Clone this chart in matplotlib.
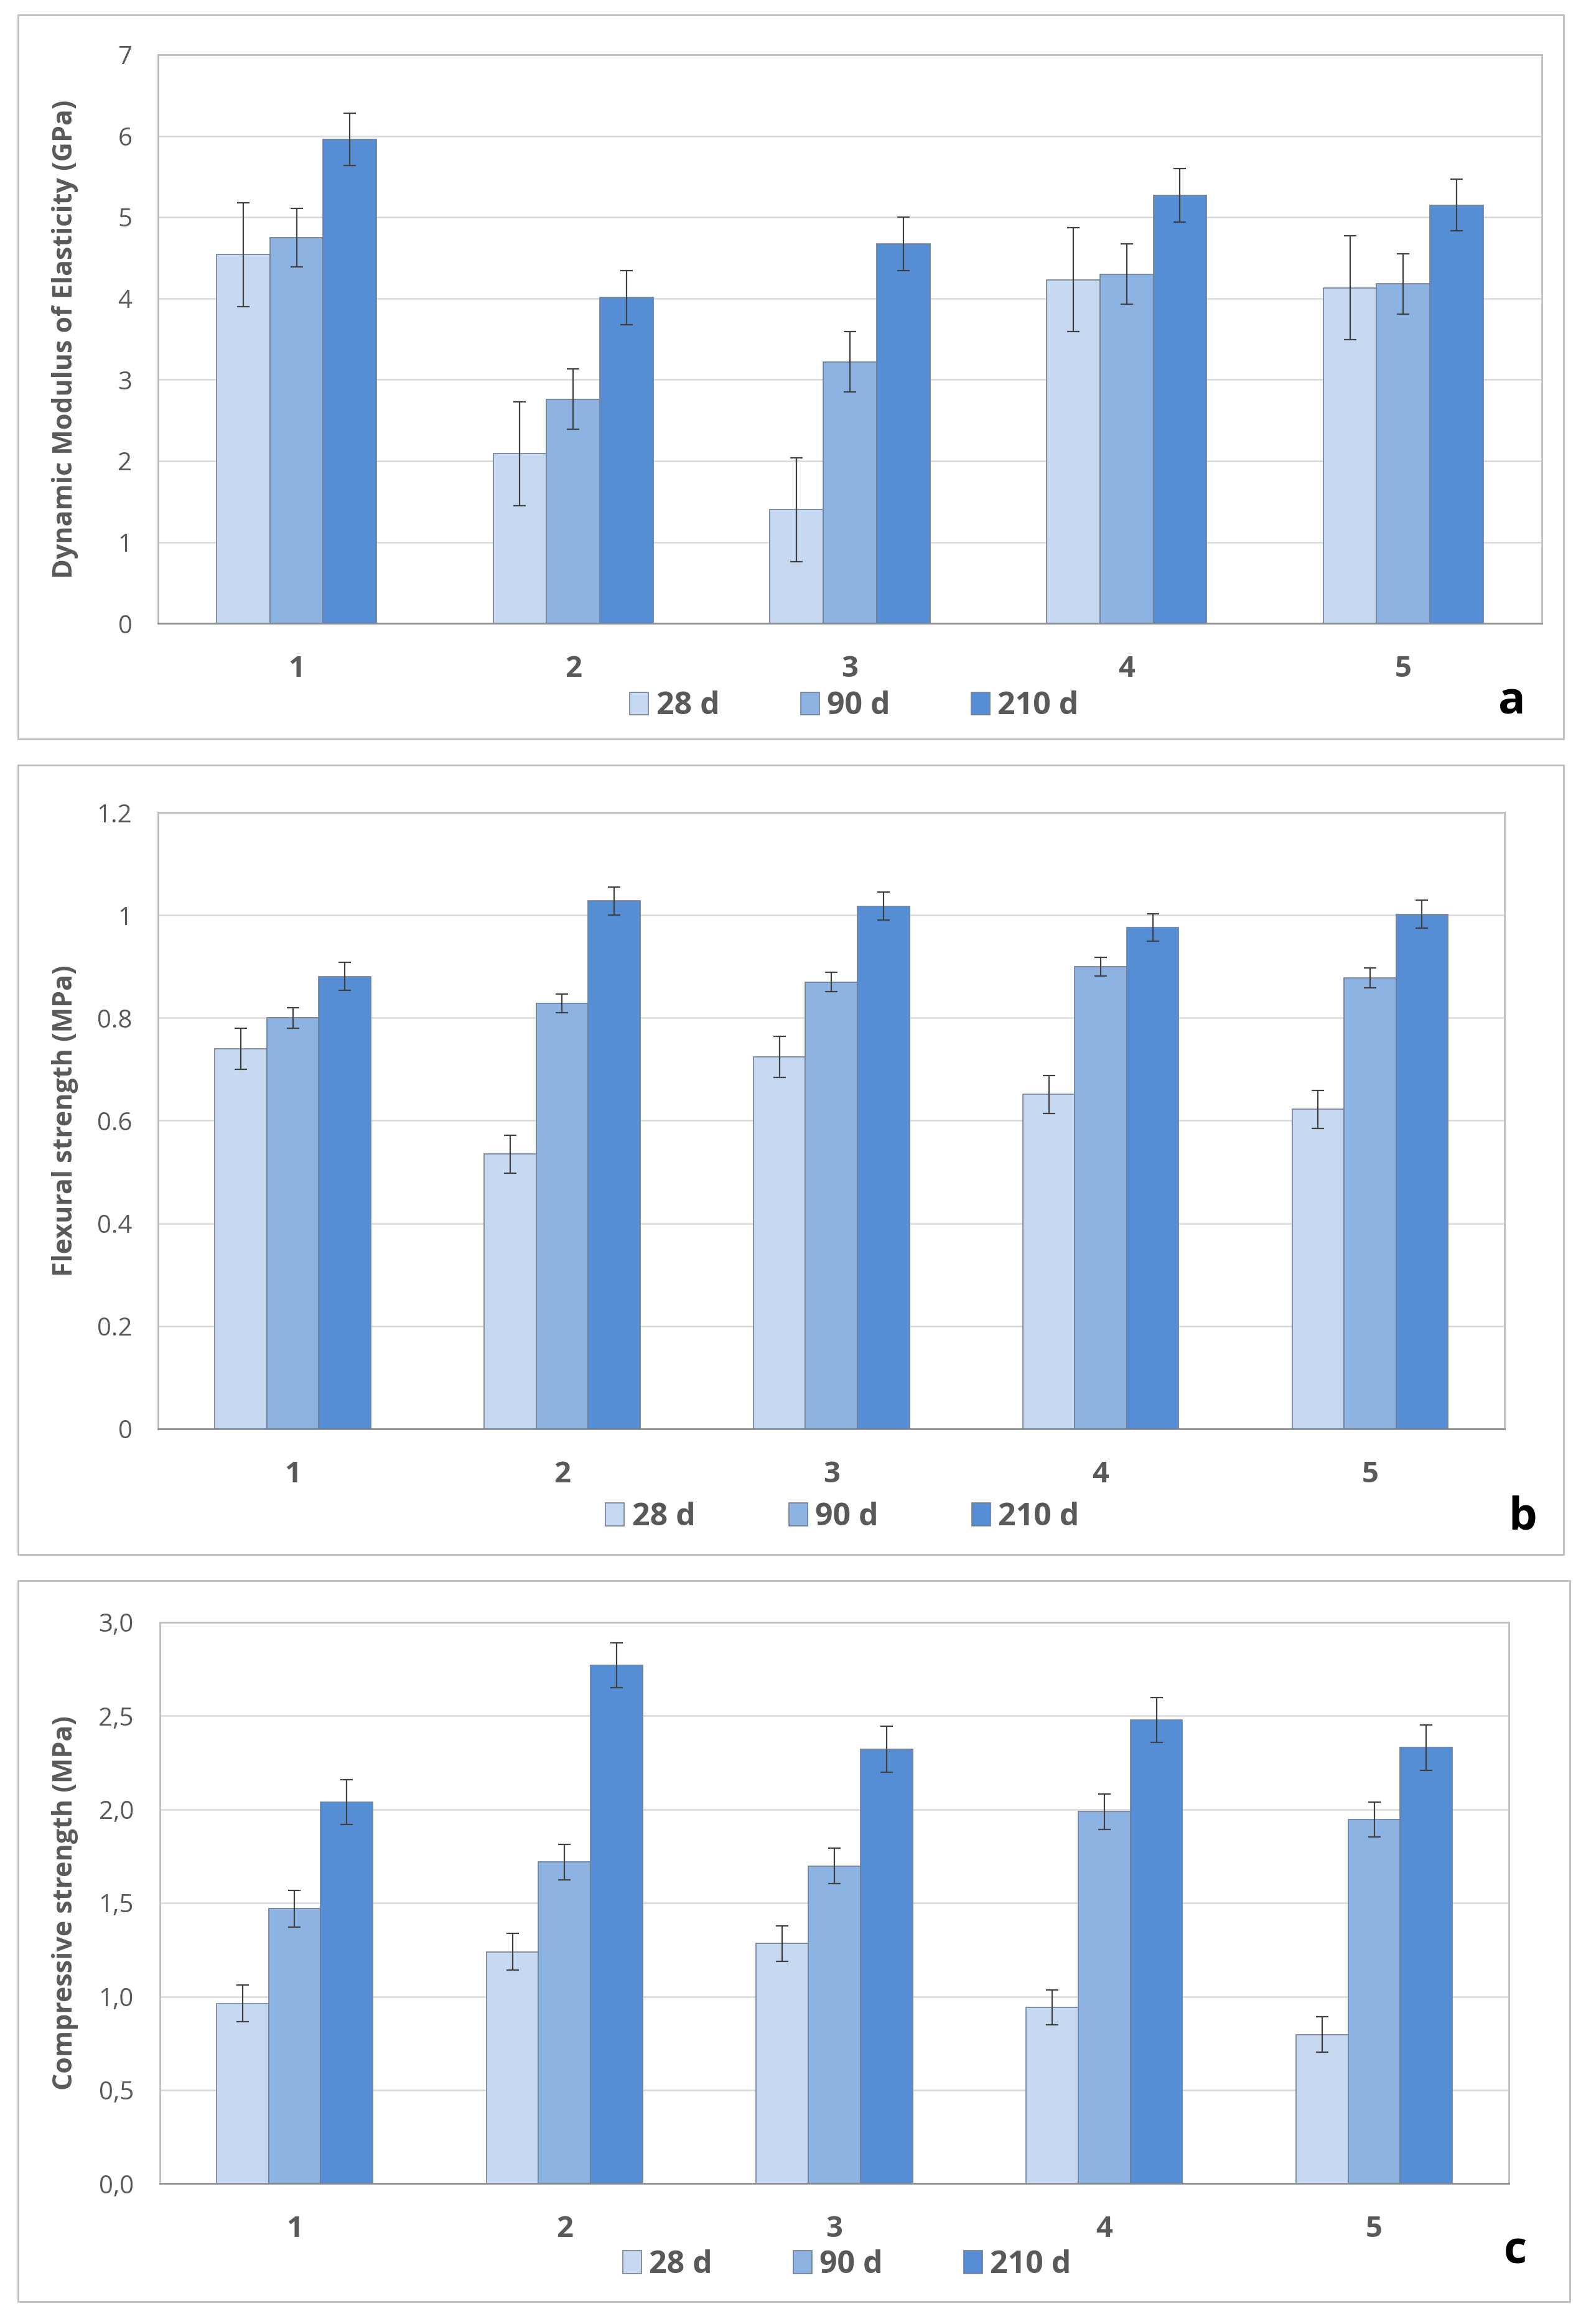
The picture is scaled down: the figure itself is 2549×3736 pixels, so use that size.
import numpy as np
import matplotlib
matplotlib.use('Agg')
import matplotlib.pyplot as plt
from matplotlib.patches import Rectangle
from matplotlib.transforms import blended_transform_factory

plt.rcParams['font.family'] = ['Open Sans', 'DejaVu Sans']

groups = ['1', '2', '3', '4', '5']
ages = ['28 d', '90 d', '210 d']
colors = ['#C6D9F0', '#8DB3E2', '#558ED5']

# panel a - dynamic modulus of elasticity (GPa)
dyn_28 = [4.54, 2.09, 1.40, 4.23, 4.13]
dyn_90 = [4.75, 2.76, 3.22, 4.30, 4.18]
dyn_210 = [5.96, 4.01, 4.67, 5.27, 5.15]
dyn_err_28 = [0.64, 0.64, 0.64, 0.64, 0.64]
dyn_err_90 = [0.36, 0.37, 0.37, 0.37, 0.37]
dyn_err_210 = [0.32, 0.33, 0.33, 0.33, 0.32]

# panel b - flexural strength (MPa)
flex_28 = [0.740, 0.535, 0.724, 0.651, 0.622]
flex_90 = [0.800, 0.828, 0.870, 0.900, 0.878]
flex_210 = [0.881, 1.028, 1.018, 0.976, 1.002]
flex_err_28 = [0.040, 0.037, 0.040, 0.037, 0.037]
flex_err_90 = [0.020, 0.018, 0.019, 0.018, 0.019]
flex_err_210 = [0.027, 0.027, 0.027, 0.027, 0.027]

# panel c - compressive strength (MPa)
comp_28 = [0.963, 1.239, 1.284, 0.942, 0.796]
comp_90 = [1.469, 1.719, 1.698, 1.988, 1.946]
comp_210 = [2.040, 2.771, 2.322, 2.478, 2.330]
comp_err_28 = [0.097, 0.097, 0.095, 0.092, 0.095]
comp_err_90 = [0.097, 0.095, 0.095, 0.094, 0.093]
comp_err_210 = [0.120, 0.120, 0.123, 0.120, 0.120]

W, H = 1073.0, 1573.0  # layout measured on a reduced copy

def fx(x):
    return x / W

def fy(y):
    return 1 - y / H

fig = plt.figure(figsize=(25.49, 37.36), dpi=100)

panels = [
    dict(vals=[dyn_28, dyn_90, dyn_210], errs=[dyn_err_28, dyn_err_90, dyn_err_210],
         ylim=(0, 7), ticks=np.arange(0, 8, 1), fmt='{:g}',
         ylabel='Dynamic Modulus of Elasticity (GPa)',
         box=(12, 10, 1058, 500), ax=(107, 37, 1043, 422),
         leg=(578, 478), colsp=2.6, letter='a', lpos=(1023, 475)),
    dict(vals=[flex_28, flex_90, flex_210], errs=[flex_err_28, flex_err_90, flex_err_210],
         ylim=(0, 1.2), ticks=np.arange(0, 1.21, 0.2), fmt='{:g}',
         ylabel='Flexural strength (MPa)',
         box=(12, 518, 1058, 1052), ax=(107, 550, 1018, 967),
         leg=(570, 1027), colsp=3.0, letter='b', lpos=(1030, 1027)),
    dict(vals=[comp_28, comp_90, comp_210], errs=[comp_err_28, comp_err_90, comp_err_210],
         ylim=(0, 3), ticks=np.arange(0, 3.01, 0.5), fmt='comma',
         ylabel='Compressive strength (MPa)',
         box=(12, 1070, 1062, 1558), ax=(108, 1098, 1021, 1478),
         leg=(573, 1533), colsp=2.6, letter='c', lpos=(1025, 1524)),
]

x = np.arange(len(groups))
bw = 0.193

for p in panels:
    bx0, by0, bx1, by1 = p['box']
    fig.patches.append(Rectangle((fx(bx0), fy(by1)), fx(bx1) - fx(bx0), fy(by0) - fy(by1),
                                 transform=fig.transFigure, fill=False,
                                 edgecolor='#BFBFBF', linewidth=2))
    l, t, r, b = p['ax']
    ax = fig.add_axes([fx(l), fy(b), fx(r) - fx(l), fy(t) - fy(b)])
    for i in range(3):
        ax.bar(x + (i - 1) * bw, p['vals'][i], bw, color=colors[i],
               edgecolor='#6F7F96', linewidth=1.2, label=ages[i], zorder=3,
               yerr=p['errs'][i], ecolor='#404040',
               error_kw=dict(elinewidth=1.6, capsize=7, capthick=1.6, zorder=4))
    ax.set_xlim(-0.5, 4.5)
    ax.set_ylim(*p['ylim'])
    ax.set_yticks(p['ticks'])
    if p['fmt'] == 'comma':
        ax.set_yticklabels(['{:.1f}'.format(v).replace('.', ',') for v in p['ticks']])
    else:
        ax.set_yticklabels(['{:g}'.format(round(v, 2)) for v in p['ticks']])
    ax.set_xticks(x)
    ax.set_xticklabels(groups, fontweight='bold')
    ax.tick_params(axis='both', length=0, colors='#595959')
    ax.tick_params(axis='y', pad=30, labelsize=29)
    ax.tick_params(axis='x', pad=36, labelsize=34)
    ax.grid(axis='y', color='#D9D9D9', linewidth=1.8, zorder=0)
    ax.set_axisbelow(True)
    for s in ax.spines.values():
        s.set_color('#BFBFBF')
        s.set_linewidth(2)
    ax.spines['bottom'].set_color('#909090')
    ax.set_ylabel(p['ylabel'], fontsize=31, fontweight='bold', color='#595959')
    ax.yaxis.label.set_va('center')
    ax.yaxis.set_label_coords(fx(44), 0.5,
                              transform=blended_transform_factory(fig.transFigure, ax.transAxes))
    lx, ly = p['leg']
    leg = ax.legend(loc='center', bbox_to_anchor=(fx(lx), fy(ly)), bbox_transform=fig.transFigure,
                    ncol=3, frameon=False, fontsize=36, handlelength=0.6, handleheight=0.75,
                    columnspacing=p['colsp'], handletextpad=0.25)
    for txt in leg.get_texts():
        txt.set_color('#595959')
        txt.set_fontweight('bold')
    tx, ty = p['lpos']
    fig.text(fx(tx), fy(ty), p['letter'], fontsize=52, fontweight='bold',
             ha='center', va='center', color='black')

fig.savefig('out.png', dpi=100, facecolor='white')
